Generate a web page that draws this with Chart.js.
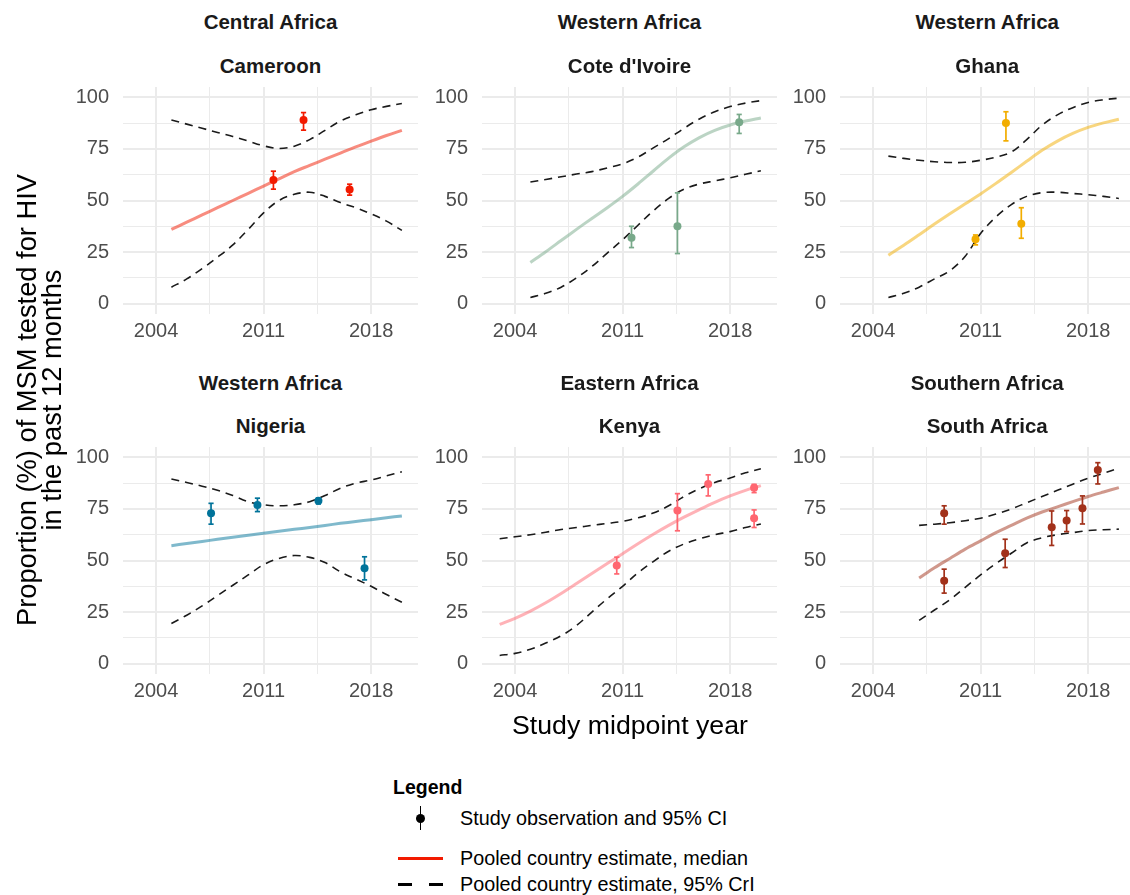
<!DOCTYPE html>
<html>
<head>
<meta charset="utf-8">
<script src="https://cdn.jsdelivr.net/npm/chart.js@4.4.1/dist/chart.umd.min.js"></script>
<style>
  html, body { margin:0; padding:0; background:#fff; }
  #fig { position:relative; width:1130px; height:895px; overflow:hidden; background:#fff;
         font-family:"Liberation Sans", Arial, Helvetica, sans-serif; color:#1A1A1A; }
  .strip { position:absolute; text-align:center; font-weight:bold; font-size:20.5px; line-height:20px; white-space:nowrap; }
  canvas { position:absolute; }
  .abs { position:absolute; white-space:nowrap; }
</style>
</head>
<body>
<div id="fig"></div>
<script>
// ---------------- DATA ----------------
const xMajor = [2004, 2011, 2018];
const xMinor = [2007.5, 2014.5];
const yMajor = [0, 25, 50, 75, 100];
const yMinor = [12.5, 37.5, 62.5, 87.5];

const regions   = ["Central Africa", "Western Africa", "Western Africa", "Western Africa", "Eastern Africa", "Southern Africa"];
const countries = ["Cameroon", "Cote d'Ivoire", "Ghana", "Nigeria", "Kenya", "South Africa"];
const pointColors = ["#F21A00", "#78A98A", "#F2AD00", "#00739A", "#FF6670", "#A2311A"];

// Cameroon
const camYears = [2005,2006,2007,2008,2009,2010,2011,2012,2013,2014,2015,2016,2017,2018,2019,2020];
const camMed   = [36,39.5,43,46.5,50,53.5,57,60.5,64,67,70,73,76,78.8,81.5,84];
const camUpper = [89,87,85,83,81,78.8,76.5,75.2,76.3,79.5,84,88.5,91.5,94,95.6,97];
const camLower = [8,12,17,22.5,28.5,36,44,50,53,54,52,49,46.5,43.5,40,35.5];
const camObsX  = [2011.64, 2013.6, 2016.6];
const camObs   = [59.9, 89.0, 55.3];
const camObsLo = [55.5, 84.1, 52.6];
const camObsHi = [64.2, 92.6, 57.9];

// Cote d'Ivoire
const civYears = [2005,2006,2007,2008,2009,2010,2011,2012,2013,2014,2015,2016,2017,2018,2019,2020];
const civMed   = [20,25.2,30.6,36,41.3,46.5,52,58,64.3,70.5,76,80.5,84,86.6,88.5,90];
const civUpper = [59,60.2,61.5,62.8,64,65.8,67.8,71,75.5,80,85,89.5,93,95.5,97.2,98.4];
const civLower = [3,5,8,12.5,18,24.5,31,38,45,51,55.5,58,59.5,61,62.7,64.4];
const civObsX  = [2011.58, 2014.57, 2018.59];
const civObs   = [32.0, 37.5, 87.9];
const civObsLo = [27.2, 24.3, 82.5];
const civObsHi = [37.5, 53.7, 91.7];

// Ghana
const ghaYears = [2005,2006,2007,2008,2009,2010,2011,2012,2013,2014,2015,2016,2017,2018,2019,2020];
const ghaMed   = [23.5,28.3,33.4,38.6,43.6,48.4,53.2,58.3,63.6,69,74.3,78.8,82.5,85.4,87.6,89.4];
const ghaUpper = [71.5,70.4,69.5,68.8,68.4,68.5,69.5,71,73.5,79.5,86.5,91.5,95,97.5,98.8,99.6];
const ghaLower = [3,5,8,12,16,23,34,42,48,52,53.8,54,53.4,52.8,52,51];
const ghaObsX  = [2010.67, 2012.65, 2013.65];
const ghaObs   = [31.2, 87.5, 38.7];
const ghaObsLo = [28.5, 78.9, 31.7];
const ghaObsHi = [33.3, 93.0, 46.5];

// Nigeria
const ngaYears = [2005,2006,2007,2008,2009,2010,2011,2012,2013,2014,2015,2016,2017,2018,2019,2020];
const ngaMed   = [57.2,58.2,59.2,60.3,61.3,62.2,63.2,64.2,65.1,66,67,68,68.9,69.8,70.7,71.6];
const ngaUpper = [89.5,87.8,86,84,81.5,78.5,77,76.5,77,78.5,81.5,85,87.5,89,91,93];
const ngaLower = [19.5,23.5,28,33,38,43,48,51,52.4,51.5,49,44.5,41,37.5,33.5,29.8];
const ngaObsX  = [2007.58, 2010.6, 2014.57, 2017.57];
const ngaObs   = [72.9, 76.9, 79.0, 46.3];
const ngaObsLo = [67.6, 73.7, 77.4, 40.6];
const ngaObsHi = [77.7, 80.2, 80.2, 51.8];

// Kenya
const kenYears = [2003,2004,2005,2006,2007,2008,2009,2010,2011,2012,2013,2014,2015,2016,2017,2018,2019,2020];
const kenMed   = [19,22,25.5,29.5,34,38.8,43.7,48.5,53.3,58.1,62.7,67,71,74.7,78.2,81.3,84,86.3];
const kenUpper = [60.5,61.5,62.5,63.7,65,66,67,68,69,70.7,73,76.5,81,84.8,87.8,90,92.5,94.5];
const kenLower = [4,5,7,10,13.5,18.5,25,31.5,37.5,44,49.5,54.5,58,60.5,62.5,64,66,67.7];
const kenObsX  = [2010.62, 2014.57, 2016.57, 2019.56, 2019.56];
const kenObs   = [47.6, 74.2, 87.1, 85.3, 70.5];
const kenObsLo = [43.5, 64.4, 81.3, 82.9, 66.0];
const kenObsHi = [51.6, 82.4, 91.5, 86.9, 74.5];

// South Africa
const zafYears = [2007,2008,2009,2010,2011,2012,2013,2014,2015,2016,2017,2018,2019,2020];
const zafMed   = [41.5,46.5,51,55.5,59.5,63.5,67,70.5,73.5,76,78.5,81,83.2,85.3];
const zafUpper = [67,67.6,68.3,69.3,70.5,72.5,75,78,81,84,87,89.8,92.3,94.7];
const zafLower = [21,26,31,37,43,48.5,53.5,58.5,61,62.5,63.5,64.5,64.9,65.2];
const zafObsX  = [2008.63, 2008.63, 2012.6, 2015.63, 2016.6, 2017.63, 2018.63];
const zafObs   = [72.9, 40.2, 53.5, 66.1, 69.4, 75.3, 93.9];
const zafObsLo = [67.6, 34.2, 46.6, 57.3, 64.0, 67.7, 87.1];
const zafObsHi = [76.5, 45.8, 60.3, 74.0, 74.2, 81.3, 97.4];

const panelData = [
  [camYears, camMed, camUpper, camLower, camObsX, camObs, camObsLo, camObsHi],
  [civYears, civMed, civUpper, civLower, civObsX, civObs, civObsLo, civObsHi],
  [ghaYears, ghaMed, ghaUpper, ghaLower, ghaObsX, ghaObs, ghaObsLo, ghaObsHi],
  [ngaYears, ngaMed, ngaUpper, ngaLower, ngaObsX, ngaObs, ngaObsLo, ngaObsHi],
  [kenYears, kenMed, kenUpper, kenLower, kenObsX, kenObs, kenObsLo, kenObsHi],
  [zafYears, zafMed, zafUpper, zafLower, zafObsX, zafObs, zafObsLo, zafObsHi],
];

// ---------------- LAYOUT ----------------
const FONT = '"Liberation Sans", Arial, Helvetica, sans-serif';
const colLeft = [123, 482, 839.7];
const rowTop = [87, 447];
const PW = 295, PH = 227;
const PADL = 60, PADT = 34, PADR = 10, PADB = 40;
const X_MIN = 2001.85, X_MAX = 2021.05, Y_MIN = -5, Y_MAX = 105;

const fig = document.getElementById('fig');

function hexA(hex, a) {
  const r = parseInt(hex.slice(1,3),16), g = parseInt(hex.slice(3,5),16), b = parseInt(hex.slice(5,7),16);
  return `rgba(${r},${g},${b},${a})`;
}
function addText(txt, css, cls) {
  const d = document.createElement('div');
  d.className = cls || 'abs';
  d.textContent = txt;
  Object.assign(d.style, css);
  fig.appendChild(d);
  return d;
}

Chart.defaults.font.family = FONT;

panelData.forEach((pd, i) => {
  const [yrs, med, up, lo, ox, oy, olo, ohi] = pd;
  const col = i % 3, row = Math.floor(i / 3);
  const L = colLeft[col], T = rowTop[row];
  const color = pointColors[i];

  const stripTop1 = row === 0 ? 12 : 373;
  const stripTop2 = row === 0 ? 56 : 416;
  addText(regions[i], {left: L + 'px', top: stripTop1 + 'px', width: PW + 'px'}, 'strip');
  addText(countries[i], {left: L + 'px', top: stripTop2 + 'px', width: PW + 'px'}, 'strip');

  const cv = document.createElement('canvas');
  const W = PADL + PW + PADR, H = PADT + PH + PADB;
  cv.width = W; cv.height = H;
  cv.style.left = (L - PADL) + 'px';
  cv.style.top = (T - PADT) + 'px';
  cv.style.width = W + 'px'; cv.style.height = H + 'px';
  fig.appendChild(cv);

  const medPts = yrs.map((x, k) => ({x, y: med[k]}));
  const upPts = yrs.map((x, k) => ({x, y: up[k]}));
  const loPts = yrs.map((x, k) => ({x, y: lo[k]}));
  const errPts = [];
  ox.forEach((x, k) => { errPts.push({x, y: olo[k]}, {x, y: ohi[k]}, {x, y: null}); });
  const obsPts = ox.map((x, k) => ({x, y: oy[k]}));

  const dashed = {
    type: 'line', borderColor: '#1A1A1A', borderWidth: 1.6, borderDash: [8, 6],
    pointRadius: 0, tension: 0.35, fill: false, order: 4
  };

  new Chart(cv, {
    type: 'line',
    data: {
      datasets: [
        Object.assign({}, dashed, {data: upPts}),
        Object.assign({}, dashed, {data: loPts}),
        { type: 'line', data: medPts, borderColor: hexA(color, 0.5), borderWidth: 3,
          pointRadius: 0, tension: 0.35, fill: false, order: 3 },
        { type: 'line', data: errPts, borderColor: color, borderWidth: 1.7, spanGaps: false,
          pointStyle: 'line', pointRadius: 2.6, pointBorderWidth: 1.7, pointBorderColor: color,
          pointBackgroundColor: color, tension: 0, fill: false, order: 2 },
        { type: 'line', data: obsPts, showLine: false, pointStyle: 'circle', pointRadius: 4,
          pointBorderWidth: 0, pointBackgroundColor: color, pointBorderColor: color, order: 1 }
      ]
    },
    options: {
      responsive: false, animation: false, devicePixelRatio: 1,
      layout: { padding: {left: 0, top: PADT, right: PADR, bottom: 0} },
      plugins: { legend: {display: false}, tooltip: {enabled: false} },
      events: [],
      scales: {
        x: {
          type: 'linear', min: X_MIN, max: X_MAX,
          afterBuildTicks: s => { s.ticks = [...xMajor, ...xMinor].sort((a,b)=>a-b).map(v => ({value: v})); },
          afterFit: s => { s.height = PADB; },
          ticks: { callback: v => xMajor.includes(v) ? String(v) : '', color: '#4D4D4D',
                   font: {size: 20, family: FONT}, padding: 5, maxRotation: 0, autoSkip: false },
          grid: { color: '#EBEBEB', lineWidth: c => (c.tick && xMajor.includes(c.tick.value)) ? 2 : 1, drawTicks: false },
          border: { display: false }
        },
        y: {
          type: 'linear', min: Y_MIN, max: Y_MAX,
          afterBuildTicks: s => { s.ticks = [...yMajor, ...yMinor].sort((a,b)=>a-b).map(v => ({value: v})); },
          afterFit: s => { s.width = PADL; },
          ticks: { callback: v => yMajor.includes(v) ? String(v) : '', color: '#4D4D4D',
                   font: {size: 20, family: FONT}, padding: 14, autoSkip: false },
          grid: { color: '#EBEBEB', lineWidth: c => (c.tick && yMajor.includes(c.tick.value)) ? 2 : 1, drawTicks: false },
          border: { display: false }
        }
      }
    }
  });
});

// axis titles
const yt = addText('', {left: (40 - 350) + 'px', top: (400 - 26) + 'px', width: '700px', height: '52px',
  textAlign: 'center', fontSize: '27.3px', lineHeight: '25px', transform: 'rotate(-90deg)', color: '#000'});
yt.innerHTML = 'Proportion (%) of MSM tested for HIV<br>in the past 12 months';
addText('Study midpoint year', {left: '430px', top: '709px', width: '400px', textAlign: 'center',
  fontSize: '26.7px', lineHeight: '32px', color: '#000'});

// legend
addText('Legend', {left: '393px', top: '777px', fontSize: '19.5px', fontWeight: 'bold', lineHeight: '20px', color: '#000'});
const lgItems = [['Study observation and 95% CI', 818], ['Pooled country estimate, median', 858], ['Pooled country estimate, 95% CrI', 884]];
lgItems.forEach(([t, cy]) => addText(t, {left: '460px', top: (cy - 11) + 'px', fontSize: '19.8px', lineHeight: '22px', color: '#000'}));
function box(css) { const d = document.createElement('div'); d.style.position = 'absolute'; Object.assign(d.style, css); fig.appendChild(d); }
box({left: '419.5px', top: '806px', width: '1.6px', height: '24px', background: '#000'});
box({left: '416px', top: '814px', width: '9px', height: '9px', borderRadius: '50%', background: '#000'});
box({left: '398px', top: '856.5px', width: '45px', height: '3px', background: '#F21A00'});
box({left: '398px', top: '882.5px', width: '14px', height: '3px', background: '#000'});
box({left: '429px', top: '882.5px', width: '14px', height: '3px', background: '#000'});
</script>
</body>
</html>
